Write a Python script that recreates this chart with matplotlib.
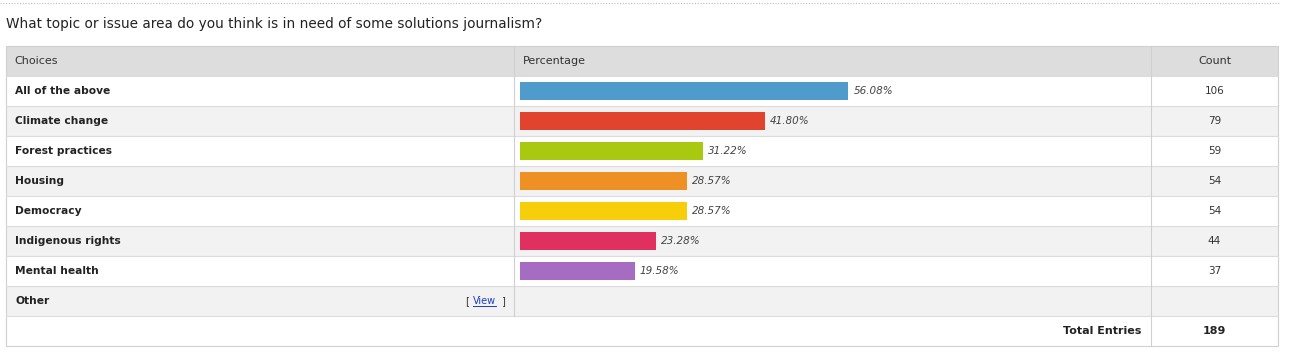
import matplotlib
matplotlib.use("Agg")
import matplotlib.pyplot as plt
from matplotlib.patches import Rectangle

title = "What topic or issue area do you think is in need of some solutions journalism?"
choices = ["All of the above", "Climate change", "Forest practices", "Housing",
           "Democracy", "Indigenous rights", "Mental health"]
percentages = [56.08, 41.80, 31.22, 28.57, 28.57, 23.28, 19.58]
counts = [106, 79, 59, 54, 54, 44, 37]
colors = ["#4f9bcb", "#e2432f", "#a8c90f", "#ef9025", "#f6cf0a", "#e0305f", "#a66cc1"]
other_label = "Other"
total_label = "Total Entries"
total_count = 189
headers = ["Choices", "Percentage", "Count"]

W, H = 1290, 353
fig = plt.figure(figsize=(W / 100, H / 100), dpi=100)

# overlay axes in pixel coordinates
ax = fig.add_axes([0, 0, 1, 1])
ax.set_xlim(0, W)
ax.set_ylim(H, 0)
ax.axis("off")

FONT = "DejaVu Sans"
left, right = 6, 1278
c1, c2 = 514, 1151
top = 46
rh = 30
nrows = len(choices) + 2  # + Other + Total

# dotted line at top
ax.plot([0, 1280], [2.5, 2.5], color="#bbbbbb", lw=0.8, ls=(0, (1, 1.5)))

ax.text(6, 24, title, fontsize=9.8, family=FONT, color="#222222", va="center", ha="left")

# header
ax.add_patch(Rectangle((left, top), right - left, rh, facecolor="#dddddd", edgecolor="none"))
ax.text(14, top + rh / 2, headers[0], fontsize=8, family=FONT, color="#333333", va="center")
ax.text(523, top + rh / 2, headers[1], fontsize=8, family=FONT, color="#333333", va="center")
ax.text((c2 + right) / 2, top + rh / 2, headers[2], fontsize=8, family=FONT, color="#333333",
        va="center", ha="center")

# rows background
for i in range(nrows):
    y0 = top + rh * (i + 1)
    fc = "#f2f2f2" if i % 2 == 1 else "#ffffff"
    ax.add_patch(Rectangle((left, y0), right - left, rh, facecolor=fc, edgecolor="none"))
    ax.plot([left, right], [y0, y0], color="#dcdcdc", lw=0.8)

bottom = top + rh * (nrows + 1)
# outer border
ax.add_patch(Rectangle((left, top), right - left, bottom - top, facecolor="none",
                       edgecolor="#d0d0d0", lw=0.8))
ax.plot([c1, c1], [top, bottom - rh], color="#d0d0d0", lw=0.8)
ax.plot([c2, c2], [top, bottom], color="#d0d0d0", lw=0.8)

for i, (ch, cnt) in enumerate(zip(choices, counts)):
    yc = top + rh * (i + 1) + rh / 2
    ax.text(15, yc, ch, fontsize=7.7, family=FONT, weight="bold", color="#222222", va="center")
    ax.text((c2 + right) / 2, yc, str(cnt), fontsize=7.5, family=FONT, color="#333333",
            va="center", ha="center")

yo = top + rh * (len(choices) + 1) + rh / 2
ax.text(15, yo, other_label, fontsize=7.7, family=FONT, weight="bold", color="#222222", va="center")
ax.text(465, yo, "[", fontsize=7, family=FONT, color="#333333", va="center")
ax.text(473, yo, "View", fontsize=7, family=FONT, color="#1a3fc0", va="center")
ax.plot([473, 496], [yo + 5, yo + 5], color="#1a3fc0", lw=0.7)
ax.text(501, yo, "]", fontsize=7, family=FONT, color="#333333", va="center")

yt = top + rh * (len(choices) + 2) + rh / 2
ax.text(1141, yt, total_label, fontsize=8, family=FONT, weight="bold", color="#222222",
        va="center", ha="right")
ax.text((c2 + right) / 2, yt, str(total_count), fontsize=8, family=FONT, weight="bold",
        color="#222222", va="center", ha="center")

# bar axes: 0% at x=520, 100% at x=1105 ; rows from y=76 to 286
bx0, bx1 = 520, 1105
by0, by1 = top + rh, top + rh * (len(choices) + 1)
bax = fig.add_axes([bx0 / W, 1 - by1 / H, (bx1 - bx0) / W, (by1 - by0) / H])
bax.set_xlim(0, 100)
bax.set_ylim(len(choices) - 0.5, -0.5)
bax.axis("off")
bax.patch.set_alpha(0)
ypos = list(range(len(choices)))
bax.barh(ypos, percentages, height=0.62, color=colors, edgecolor="none")
for y, p in zip(ypos, percentages):
    bax.text(p + 0.9, y, f"{p:.2f}%", fontsize=7.5, family=FONT, style="italic",
             color="#444444", va="center", ha="left")

fig.savefig("out.png", dpi=100)
